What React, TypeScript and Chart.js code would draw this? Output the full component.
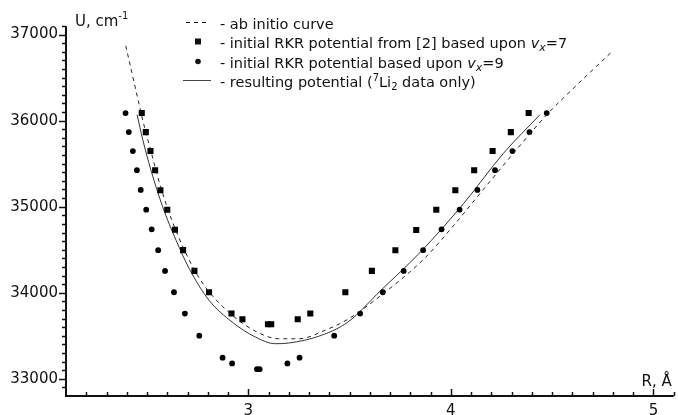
import { useEffect, useRef } from "react";
import { Chart, registerables } from "chart.js";

Chart.register(...registerables);

// Internuclear distance R (Å) and energy U (cm^-1)
const abInitioR = [2.395, 2.425, 2.455, 2.49, 2.52, 2.55, 2.6, 2.65, 2.7, 2.75, 2.81, 2.92, 3.03, 3.15, 3.25, 3.38, 3.49, 3.65, 3.87, 4.02, 4.16, 4.33, 4.47, 4.62, 4.79];
const abInitioU = [36870, 36560, 36250, 35900, 35640, 35370, 34990, 34680, 34420, 34200, 34000, 33740, 33560, 33465, 33465, 33565, 33690, 33960, 34400, 34800, 35200, 35680, 36060, 36410, 36790];

const resultR = [2.451, 2.479, 2.52, 2.577, 2.643, 2.708, 2.806, 2.92, 3.035, 3.133, 3.198, 3.361, 3.492, 3.655, 3.851, 4.064, 4.26, 4.44];
const resultU = [36069, 35778, 35420, 35000, 34612, 34282, 33913, 33660, 33485, 33408, 33415, 33505, 33660, 34029, 34476, 35040, 35622, 36069];

// RKR turning points, v_x = 7 (from [2])
const rkr7R = [2.474, 2.494, 2.517, 2.54, 2.566, 2.6, 2.638, 2.678, 2.734, 2.806, 2.917, 2.971, 3.097, 3.113, 3.244, 3.306, 3.479, 3.61, 3.726, 3.829, 3.928, 4.022, 4.115, 4.206, 4.296, 4.384];
const rkr7U = [36088, 35867, 35648, 35424, 35191, 34965, 34732, 34495, 34254, 34006, 33758, 33691, 33633, 33633, 33691, 33758, 34006, 34254, 34494, 34730, 34965, 35191, 35424, 35648, 35867, 36088];

// RKR turning points, v_x = 9
const rkr9R = [2.394, 2.41, 2.43, 2.45, 2.469, 2.496, 2.523, 2.555, 2.589, 2.633, 2.687, 2.758, 2.873, 2.92, 3.043, 3.056, 3.193, 3.253, 3.424, 3.552, 3.664, 3.767, 3.863, 3.954, 4.043, 4.131, 4.218, 4.304, 4.388, 4.473];
const rkr9U = [36088, 35867, 35646, 35424, 35195, 34965, 34737, 34495, 34254, 34006, 33758, 33501, 33245, 33178, 33112, 33112, 33178, 33245, 33501, 33758, 34006, 34254, 34495, 34737, 34965, 35195, 35424, 35646, 35867, 36088];

const xMajorTicks = [3, 4, 5];
const yMajorTicks = [33000, 34000, 35000, 36000, 37000];
const xMin = 2.1, xMax = 5.1, xMinorStep = 0.1;
const yMin = 32800, yMax = 37100, yMinorStep = 100;

const toPoints = (xs: number[], ys: number[]) => xs.map((x, i) => ({ x, y: ys[i] }));

const INK = "#111";
const FONT = "DejaVu Sans";

function drawRich(ctx: CanvasRenderingContext2D, parts: { t: string; style?: string; dy?: number; size?: number }[], x: number, y: number, base: number) {
  let cx = x;
  for (const p of parts) {
    const size = p.size ?? base;
    ctx.font = `${p.style ?? ""} ${size}px "${FONT}"`.trim();
    ctx.fillText(p.t, cx, y + (p.dy ?? 0));
    cx += ctx.measureText(p.t).width;
  }
}

const axesPlugin = {
  id: "axesPlugin",
  afterDraw(chart: any) {
    const { ctx, chartArea, scales } = chart;
    const xs = scales.x, ys = scales.y;
    ctx.save();
    ctx.strokeStyle = INK;
    ctx.fillStyle = INK;

    // axis lines
    ctx.lineWidth = 2;
    ctx.beginPath();
    ctx.moveTo(chartArea.left, chartArea.top);
    ctx.lineTo(chartArea.left, chartArea.bottom);
    ctx.lineTo(chartArea.right, chartArea.bottom);
    ctx.stroke();

    // x ticks (inward)
    ctx.lineWidth = 1.5;
    for (let v = xMin + xMinorStep; v <= xMax + 1e-9; v += xMinorStep) {
      const px = Math.round(xs.getPixelForValue(v)) + 0.5;
      const major = xMajorTicks.some((m) => Math.abs(m - v) < 1e-6);
      ctx.beginPath();
      ctx.moveTo(px, chartArea.bottom);
      ctx.lineTo(px, chartArea.bottom - (major ? 7 : 4));
      ctx.stroke();
    }
    // y ticks (outward)
    for (let v = yMin + yMinorStep; v <= yMax + 1e-9; v += yMinorStep) {
      const py = Math.round(ys.getPixelForValue(v)) + 0.5;
      const major = yMajorTicks.some((m) => Math.abs(m - v) < 1e-6);
      ctx.beginPath();
      ctx.moveTo(chartArea.left, py);
      ctx.lineTo(chartArea.left - (major ? 7 : 4), py);
      ctx.stroke();
    }

    // tick labels
    ctx.font = `15px "${FONT}"`;
    ctx.textBaseline = "middle";
    ctx.textAlign = "right";
    for (const v of yMajorTicks) {
      ctx.fillText(String(v), chartArea.left - 8, ys.getPixelForValue(v));
    }
    ctx.textAlign = "center";
    ctx.textBaseline = "alphabetic";
    for (const v of xMajorTicks) {
      ctx.fillText(String(v), xs.getPixelForValue(v), chartArea.bottom + 19);
    }

    // axis titles
    ctx.textAlign = "left";
    drawRich(ctx, [{ t: "U, cm" }, { t: "-1", size: 10, dy: -7 }], chartArea.left + 9, 26, 15);
    ctx.textAlign = "right";
    ctx.font = `15px "${FONT}"`;
    ctx.fillText("R, Å", chartArea.right - 2, chartArea.bottom - 10);

    // legend
    ctx.textAlign = "left";
    const lx = 220;
    const rows = [29, 48, 68, 87];
    ctx.lineWidth = 1;
    ctx.setLineDash([4, 4]);
    ctx.beginPath();
    ctx.moveTo(186, rows[0] - 6.5);
    ctx.lineTo(210, rows[0] - 6.5);
    ctx.stroke();
    ctx.setLineDash([]);
    ctx.fillRect(195, rows[1] - 9.5, 6, 6);
    ctx.beginPath();
    ctx.arc(198, rows[2] - 6.5, 2.8, 0, Math.PI * 2);
    ctx.fill();
    ctx.strokeStyle = "#444";
    ctx.beginPath();
    ctx.moveTo(183, rows[3] - 6.5);
    ctx.lineTo(211, rows[3] - 6.5);
    ctx.stroke();

    const fs = 14.5;
    drawRich(ctx, [{ t: "- ab initio curve" }], lx, rows[0], fs);
    drawRich(ctx, [
      { t: "- initial RKR potential from [2] based upon " },
      { t: "v", style: "italic" },
      { t: "x", style: "italic", size: 11, dy: 3 },
      { t: "=7" },
    ], lx, rows[1], fs);
    drawRich(ctx, [
      { t: "- initial RKR potential based upon " },
      { t: "v", style: "italic" },
      { t: "x", style: "italic", size: 11, dy: 3 },
      { t: "=9" },
    ], lx, rows[2], fs);
    drawRich(ctx, [
      { t: "- resulting potential (" },
      { t: "7", size: 10, dy: -6 },
      { t: "Li" },
      { t: "2", size: 10, dy: 3 },
      { t: " data only)" },
    ], lx, rows[3], fs);

    ctx.restore();
  },
};

export default function App() {
  const canvasRef = useRef<HTMLCanvasElement | null>(null);

  useEffect(() => {
    const canvas = canvasRef.current;
    if (!canvas) return;
    const chart = new Chart(canvas, {
      type: "scatter",
      data: {
        datasets: [
          {
            label: "ab initio curve",
            data: toPoints(abInitioR, abInitioU),
            showLine: true,
            borderColor: "#222",
            borderWidth: 1,
            borderDash: [4, 4],
            pointRadius: 0,
            cubicInterpolationMode: "monotone",
          },
          {
            label: "initial RKR potential from [2] based upon vx=7",
            data: toPoints(rkr7R, rkr7U),
            showLine: false,
            pointStyle: "rect",
            pointRadius: 4.3,
            backgroundColor: "#000",
            borderWidth: 0,
          },
          {
            label: "initial RKR potential based upon vx=9",
            data: toPoints(rkr9R, rkr9U),
            showLine: false,
            pointStyle: "circle",
            pointRadius: 2.9,
            backgroundColor: "#000",
            borderWidth: 0,
          },
          {
            label: "resulting potential (7Li2 data only)",
            data: toPoints(resultR, resultU),
            showLine: true,
            borderColor: "#333",
            borderWidth: 1,
            pointRadius: 0,
            cubicInterpolationMode: "monotone",
          },
        ],
      },
      options: {
        responsive: false,
        animation: false,
        devicePixelRatio: 1,
        layout: { padding: { left: 66, right: 0, top: 26, bottom: 19 } },
        plugins: { legend: { display: false }, tooltip: { enabled: false } },
        scales: {
          x: { type: "linear", min: xMin, max: xMax, display: false },
          y: { type: "linear", min: yMin, max: yMax, display: false },
        },
      },
      plugins: [axesPlugin],
    });
    return () => chart.destroy();
  }, []);

  return (
    <div style={{ position: "fixed", left: 0, top: 0, width: 678, height: 415, background: "#fff" }}>
      <canvas ref={canvasRef} width={678} height={415} />
    </div>
  );
}
